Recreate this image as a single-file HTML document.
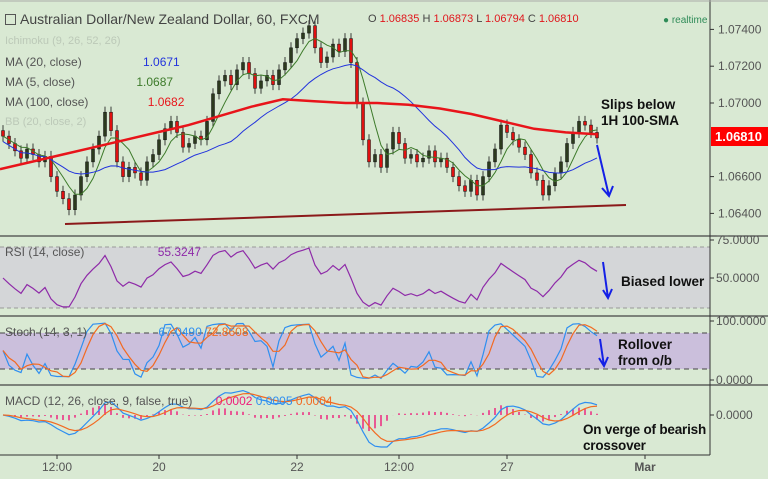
<!DOCTYPE html>
<html><head><meta charset="utf-8">
<style>
html,body{margin:0;padding:0;width:768px;height:479px;overflow:hidden;background:#d9e9d3;font-family:"Liberation Sans",sans-serif}
svg{display:block}
</style></head>
<body>
<svg id="c" width="768" height="479" xmlns="http://www.w3.org/2000/svg" font-family="Liberation Sans, sans-serif"></svg>
<script>
// ---- data ----
const closes=[1.0682,1.0678,1.0674,1.0670,1.0675,1.0672,1.0668,1.0671,1.0660,1.0652,
1.0648,1.0642,1.0650,1.0660,1.0668,1.0675,1.0682,1.0695,1.0685,1.0668,
1.0660,1.0665,1.0662,1.0658,1.0668,1.0672,1.0680,1.0686,1.0690,1.0684,
1.0676,1.0678,1.0682,1.0680,1.0690,1.0705,1.0712,1.0715,1.0710,1.0718,
1.0722,1.0716,1.0708,1.0712,1.0715,1.0710,1.0718,1.0722,1.0730,1.0735,
1.0738,1.0742,1.0730,1.0722,1.0725,1.0732,1.0728,1.0735,1.0722,1.0700,
1.0680,1.0668,1.0672,1.0665,1.0675,1.0684,1.0678,1.0670,1.0672,1.0668,
1.0670,1.0674,1.0668,1.0670,1.0665,1.0660,1.0655,1.0652,1.0658,1.0650,
1.0660,1.0668,1.0675,1.0688,1.0684,1.0680,1.0676,1.0672,1.0662,1.0658,
1.0650,1.0655,1.0662,1.0668,1.0678,1.0684,1.0690,1.0688,1.0684,1.0681];
const sma100=[1.0664,1.0668,1.0672,1.0676,1.0680,1.0684,1.0688,1.0693,1.0698,1.0702,1.0701,1.0700,1.0700,1.0699,1.0697,1.0694,1.0690,1.0686,1.0684,1.0683];
const priceTicks=[1.074,1.072,1.070,1.066,1.064];
const rsiTicks=[75,50];
const stochTicks=[100,0];
const timeLabels=["12:00","20","22","12:00","27","Mar"];
const timeIdx=[9,26,49,66,84,107];
const lastPrice=1.0681;

const svg=document.getElementById('c');
const NS='http://www.w3.org/2000/svg';
function el(t,a,p){const e=document.createElementNS(NS,t);for(const k in a)e.setAttribute(k,a[k]);(p||svg).appendChild(e);return e;}
function txt(s,a,p){const e=el('text',a,p);e.textContent=s;return e;}
const xOf=i=>3+i*6;
const py=v=>103-(v-1.070)/0.002*36.8;
const ry=v=>278-(v-50)/25*38;
const sy=v=>380-v/100*59;
const my=v=>415-Math.max(-32,Math.min(26,v*22000));

// panes
let r=el('rect',{x:0,y:247,width:710,height:61,fill:'#d4d6d8'});

el('line',{x1:0,y1:247,x2:710,y2:247,stroke:'#999','stroke-dasharray':'4,3'});
el('line',{x1:0,y1:308,x2:710,y2:308,stroke:'#999','stroke-dasharray':'4,3'});
r=el('rect',{x:0,y:333,width:710,height:36,fill:'#cbbfdc'});

el('line',{x1:0,y1:333,x2:710,y2:333,stroke:'#444','stroke-dasharray':'5,4'});
el('line',{x1:0,y1:369,x2:710,y2:369,stroke:'#444','stroke-dasharray':'5,4'});
[236,316,385].forEach(y=>el('line',{x1:0,y1:y,x2:768,y2:y,stroke:'#444','stroke-width':1.2}));
el('line',{x1:710,y1:0,x2:710,y2:455,stroke:'#333'});
el('line',{x1:0,y1:455,x2:710,y2:455,stroke:'#333'});
el('line',{x1:0,y1:1,x2:768,y2:1,stroke:'#aaa'});

// candles
const cg=el('g',{});
closes.forEach((c,i)=>{
  const o=i?closes[i-1]:c+0.0003;
  const hi=Math.max(o,c)+0.0003, lo=Math.min(o,c)-0.0003;
  const x=xOf(i);
  const up=c>=o;
  el('line',{x1:x,y1:py(hi),x2:x,y2:py(lo),stroke:'#111','stroke-width':0.8},cg);
  const b=el('rect',{x:x-1.5,y:py(Math.max(o,c)),width:3,height:Math.max(1,Math.abs(py(o)-py(c))),fill:up?'#2c3a1e':'#e01010',stroke:'#111','stroke-width':0.5},cg);
  
});
function sma(n){return closes.map((_,i)=>{const s=closes.slice(Math.max(0,i-n+1),i+1);return s.reduce((a,b)=>a+b,0)/s.length;});}
function poly(vals,f,stroke,w,name){const pts=vals.map((v,i)=>xOf(i)+','+f(v).toFixed(1)).join(' ');const p=el('polyline',{points:pts,fill:'none',stroke:stroke,'stroke-width':w});return p;}
poly(sma(5),py,'#3d7a2a',1,'ma5-line');
poly(sma(20).map(v=>v-0.0003),py,'#2233dd',1,'ma20-line');
{const pts=sma100.map((v,i)=>(i*597/(sma100.length-1)).toFixed(1)+','+py(v).toFixed(1)).join(' ');
const p=el('polyline',{points:pts,fill:'none',stroke:'#e8141a','stroke-width':2.5});}
let tl=el('line',{x1:65,y1:224,x2:626,y2:205,stroke:'#8b1a1a','stroke-width':2});


// RSI
function rsiCalc(n){const out=[];let g=0.0002,l=0.0002;for(let i=1;i<closes.length;i++){const d=closes[i]-closes[i-1];g=(g*(n-1)+Math.max(d,0))/n;l=(l*(n-1)+Math.max(-d,0))/n;out.push(100-100/(1+g/l));}out.unshift(50);return out.map(v=>50+(v-50)*0.75).map(v=>Math.max(31,Math.min(76,v)));}
poly(rsiCalc(10),ry,'#8e2aa8',1.2,'rsi-line');
// Stoch
function stoch(n){return closes.map((c,i)=>{const s=closes.slice(Math.max(0,i-n+1),i+1);const h=Math.max(...s)+0.0002,l=Math.min(...s)-0.0002;return (c-l)/(h-l)*100;});}
const k=stoch(10);const d=k.map((_,i)=>{const s=k.slice(Math.max(0,i-2),i+1);return s.reduce((a,b)=>a+b,0)/s.length;});
poly(k,sy,'#2f8ff0',1.2,'stoch-k-line');poly(d,sy,'#f26a22',1.2,'stoch-d-line');
// MACD
function ema(a,n){const al=2/(n+1);let e=a[0];return a.map(v=>e=e+al*(v-e));}
const e1=ema(closes,6),e2=ema(closes,13);const macd=e1.map((v,i)=>v-e2[i]);const sig=ema(macd,5);
macd.forEach((m,i)=>{const h=(m-sig[i]);const b=el('rect',{x:xOf(i)-0.7,y:Math.min(my(0),my(h)),width:1.4,height:Math.abs(my(h)-my(0)),fill:'#ee1a7a'});});
poly(macd,my,'#2f8ff0',1.2,'macd-line');poly(sig,my,'#f26a22',1.2,'macd-signal-line');

// axes labels
const ax='#555';
priceTicks.forEach(v=>{el('line',{x1:710,y1:py(v),x2:714,y2:py(v),stroke:'#333'});const t=txt(v.toFixed(5),{x:718,y:py(v)+4,'font-size':12,fill:ax});});
rsiTicks.forEach(v=>{el('line',{x1:710,y1:ry(v),x2:714,y2:ry(v),stroke:'#333'});txt(v.toFixed(4),{x:716,y:ry(v)+4,'font-size':12,fill:ax});});
stochTicks.forEach(v=>{el('line',{x1:710,y1:sy(v),x2:714,y2:sy(v),stroke:'#333'});txt(v.toFixed(4),{x:716,y:sy(v)+4,'font-size':12,fill:ax});});
el('line',{x1:710,y1:415,x2:714,y2:415,stroke:'#333'});txt('0.0000',{x:716,y:419,'font-size':12,fill:ax});
timeLabels.forEach((s,i)=>{const x=xOf(timeIdx[i]);el('line',{x1:x,y1:455,x2:x,y2:459,stroke:'#333'});const t=txt(s,{x:x,y:471,'font-size':12,fill:ax,'text-anchor':'middle','font-weight':s==='Mar'?'bold':'normal'});});
let pl=el('rect',{x:711,y:127,width:57,height:19,fill:'#f00'});
txt(lastPrice.toFixed(5),{x:715,y:141,'font-size':13,fill:'#fff','font-weight':'bold'});
</script>
<div style="position:absolute;left:0;top:0;width:768px;height:479px;pointer-events:none;font-size:12px;color:#555">
  <div style="position:absolute;left:5px;top:14px;width:9px;height:9px;border:1px solid #555"></div>
  <div style="position:absolute;left:20px;top:11px;font-size:14px;color:#444">Australian Dollar/New Zealand Dollar, 60, FXCM</div>
  <div style="position:absolute;left:368px;top:13px;font-size:11px;color:#444">O <span style="color:#e0161c">1.06835</span> H <span style="color:#e0161c">1.06873</span> L <span style="color:#e0161c">1.06794</span> C <span style="color:#e0161c">1.06810</span></div>
  <div style="position:absolute;left:663px;top:15px;font-size:10px;color:#2e8b57">● realtime</div>
  <div style="position:absolute;left:5px;top:35px;color:#bcc9b8;font-size:11px">Ichimoku (9, 26, 52, 26)</div>
  <div style="position:absolute;left:5px;top:55px">MA (20, close) <span style="margin-left:58px;color:#2233dd">1.0671</span></div>
  <div style="position:absolute;left:5px;top:75px">MA (5, close) <span style="margin-left:58px;color:#3d7a2a">1.0687</span></div>
  <div style="position:absolute;left:5px;top:95px">MA (100, close) <span style="margin-left:56px;color:#e8141a">1.0682</span></div>
  <div style="position:absolute;left:5px;top:116px;color:#bcc9b8;font-size:11px">BB (20, close, 2)</div>
  <div style="position:absolute;left:5px;top:245px">RSI (14, close) <span style="margin-left:70px;color:#8e2aa8">55.3247</span></div>
  <div style="position:absolute;left:5px;top:325px">Stoch (14, 3, 1) <span style="margin-left:68px;color:#2f8ff0">67.0490</span> <span style="color:#f26a22">72.8608</span></div>
  <div style="position:absolute;left:5px;top:394px">MACD (12, 26, close, 9, false, true) <span style="margin-left:20px;color:#ee1a7a">0.0002</span> <span style="color:#2f8ff0">0.0005</span> <span style="color:#f26a22">0.0004</span></div>
  <div style="position:absolute;left:601px;top:97px;font-size:13.5px;font-weight:bold;color:#111;line-height:16px">Slips below<br>1H 100-SMA</div>
  <div style="position:absolute;left:621px;top:274px;font-size:13.5px;font-weight:bold;color:#111">Biased lower</div>
  <div style="position:absolute;left:618px;top:337px;font-size:13.5px;font-weight:bold;color:#111;line-height:16px">Rollover<br>from o/b</div>
  <div style="position:absolute;left:583px;top:422px;font-size:13.5px;font-weight:bold;color:#111;line-height:16px;letter-spacing:-0.2px">On verge of bearish<br>crossover</div>
  <svg style="position:absolute;left:0;top:0" width="768" height="479">
    <g stroke="#1420e6" stroke-width="2" fill="none">
      <path d="M597 145 L609 196 M602 188 L609 196 L613 186"/>
      <path d="M603 262 L608 298 M603 290 L608 298 L612 289"/>
      <path d="M600 339 L604 366 M599 358 L604 366 L608 357"/>
    </g>
  </svg>
</div>
</body></html>
